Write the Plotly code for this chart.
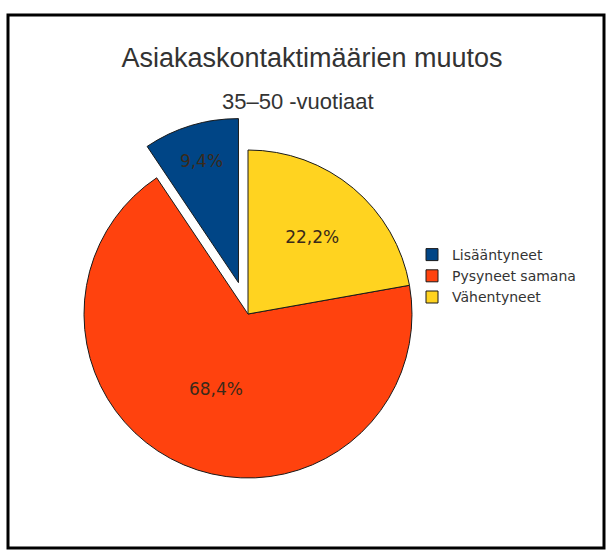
import plotly.graph_objects as go

# Data
categories = ["Lisääntyneet", "Pysyneet samana", "Vähentyneet"]
values = [9.4, 68.4, 22.2]
pulls = [0.2, 0, 0]
colors = ["#004586", "#ff420e", "#ffd320"]
title_text = "Asiakaskontaktimäärien muutos"
subtitle_text = "35–50 -vuotiaat"

W, H = 611, 555
# pie geometry in px (center and radius) -> domain
cx, cy, r = 248, 314, 164
half = r * (1 + max(pulls))
dom_x = [(cx - half) / W, (cx + half) / W]
dom_y = [(H - (cy + half)) / H, (H - (cy - half)) / H]

# first slice ends at 12 o'clock, going counterclockwise
start_rot = -values[0] / sum(values) * 360

fig = go.Figure(
    go.Pie(
        labels=categories,
        values=values,
        pull=pulls,
        sort=False,
        direction="counterclockwise",
        rotation=start_rot,
        marker=dict(colors=colors, line=dict(color="#1a1a1a", width=1)),
        textinfo="percent",
        texttemplate="%{percent:.1%}",
        textposition="inside",
        insidetextorientation="horizontal",
        textfont=dict(family="DejaVu Sans", size=17, color="#3a2a1a"),
        domain=dict(x=dom_x, y=dom_y),
        hoverinfo="label+percent",
    )
)

fig.update_layout(
    width=W,
    height=H,
    margin=dict(l=0, r=0, t=0, b=0),
    paper_bgcolor="white",
    plot_bgcolor="white",
    separators=", ",
    uniformtext=dict(minsize=17, mode="show"),
    title=dict(
        text=title_text,
        x=312 / W,
        xanchor="center",
        y=1 - 58 / H,
        yanchor="middle",
        xref="paper",
        yref="paper",
        font=dict(family="Liberation Sans", size=27, color="#333333"),
    ),
    annotations=[
        dict(
            text=subtitle_text,
            x=298 / W,
            y=1 - 101 / H,
            xref="paper",
            yref="paper",
            xanchor="center",
            yanchor="middle",
            showarrow=False,
            font=dict(family="Liberation Sans", size=22, color="#333333"),
        )
    ],
    legend=dict(
        x=412 / W,
        xanchor="left",
        y=1 - 276 / H,
        yanchor="middle",
        font=dict(family="DejaVu Sans", size=14, color="#333333"),
        bgcolor="rgba(0,0,0,0)",
        itemclick=False,
        tracegroupgap=0,
    ),
    shapes=[
        dict(
            type="rect",
            xref="paper",
            yref="paper",
            x0=8 / W,
            x1=604 / W,
            y0=1 - 548 / H,
            y1=1 - 15 / H,
            line=dict(color="black", width=3),
            fillcolor="rgba(0,0,0,0)",
        )
    ],
)

fig.write_html("out.html")
